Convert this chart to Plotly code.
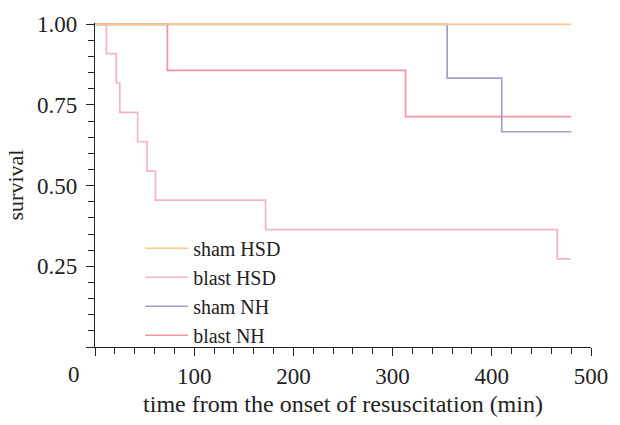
import plotly.graph_objects as go

# ---- data ----
sham_hsd_t = [0, 480]
sham_hsd_s = [1.0, 1.0]

blast_hsd_t = [0, 11.5, 21.5, 25, 43, 52.5, 61, 172, 466, 479]
blast_hsd_s = [1.0, 0.909, 0.818, 0.727, 0.636, 0.545, 0.455, 0.364, 0.273, 0.273]

sham_nh_t = [0, 355, 410, 480]
sham_nh_s = [1.0, 0.833, 0.667, 0.667]

blast_nh_t = [0, 73, 313, 480]
blast_nh_s = [1.0, 0.857, 0.714, 0.714]

x_tickvals = [0, 100, 200, 300, 400, 500]
x_ticktext = ["", "100", "200", "300", "400", "500"]
y_tickvals = [0, 0.25, 0.5, 0.75, 1.0]
y_ticktext = ["", "0.25", "0.50", "0.75", "1.00"]

FONT = "Liberation Serif"
INK = "#222222"
TICK_SIZE = 23

fig = go.Figure()
# drawn bottom-to-top; legend shown reversed so order is sham HSD, blast HSD, sham NH, blast NH
fig.add_trace(go.Scatter(x=blast_nh_t, y=blast_nh_s, name="blast NH", mode="lines",
                         line=dict(shape="hv", color="#F2959E", width=1.7)))
fig.add_trace(go.Scatter(x=sham_nh_t, y=sham_nh_s, name="sham NH", mode="lines",
                         line=dict(shape="hv", color="#9E9EC6", width=1.7)))
fig.add_trace(go.Scatter(x=blast_hsd_t, y=blast_hsd_s, name="blast HSD", mode="lines",
                         line=dict(shape="hv", color="#F6B2CA", width=1.7)))
fig.add_trace(go.Scatter(x=sham_hsd_t, y=sham_hsd_s, name="sham HSD", mode="lines",
                         line=dict(shape="hv", color="#F8C987", width=1.7)))

axis_common = dict(
    showline=True, linecolor=INK, linewidth=1.3,
    ticks="outside", ticklen=8, tickwidth=1.3, tickcolor=INK,
    showgrid=False, zeroline=False,
    tickfont=dict(family=FONT, size=TICK_SIZE, color=INK),
)

fig.update_layout(
    width=620, height=425,
    margin=dict(l=95, r=19, t=22, b=67, pad=0),
    plot_bgcolor="white", paper_bgcolor="white",
    font=dict(family=FONT, size=21, color=INK),
    xaxis=dict(range=[0, 500], tickmode="array", tickvals=x_tickvals, ticktext=x_ticktext,
               ticklabelstandoff=0,
               minor=dict(ticks="outside", ticklen=6, tickwidth=1.3, tickcolor=INK, dtick=20),
               title=dict(text="time from the onset of resuscitation (min)",
                          font=dict(family=FONT, size=24, color=INK), standoff=7),
               **axis_common),
    yaxis=dict(range=[0, 1.004], tickmode="array", tickvals=y_tickvals, ticktext=y_ticktext,
               ticklabelstandoff=4,
               minor=dict(ticks="outside", ticklen=6, tickwidth=1.3, tickcolor=INK, dtick=0.05),
               title=dict(text="survival", font=dict(family=FONT, size=22, color=INK), standoff=7),
               **axis_common),
    legend=dict(x=0.091, y=0.365, xanchor="left", yanchor="top", traceorder="reversed",
                bgcolor="rgba(0,0,0,0)", borderwidth=0, itemwidth=43,
                font=dict(family=FONT, size=20, color=INK), tracegroupgap=0),
    showlegend=True,
)

fig.add_annotation(x=0, y=0, xref="x", yref="y", text="0", showarrow=False,
                   xshift=-21, yshift=-27, yanchor="middle", xanchor="center",
                   font=dict(family=FONT, size=TICK_SIZE, color=INK))

fig.write_html("out.html", config={"displayModeBar": False},
               post_script="document.body.style.margin='0';document.body.style.overflow='hidden';")
